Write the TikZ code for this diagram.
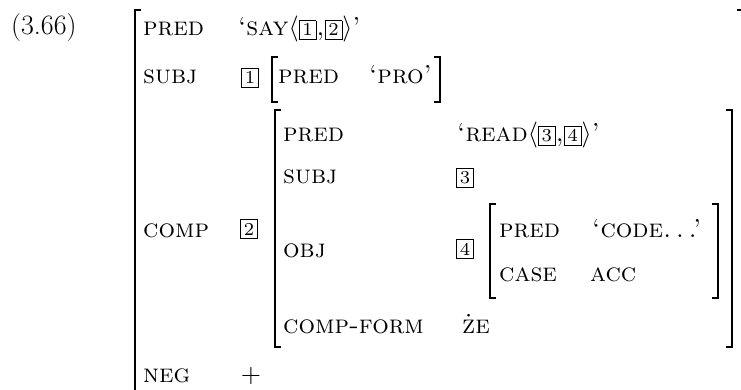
\documentclass[tikz,border=0pt]{standalone}
\usepackage{graphicx}
\newcommand\sct[1]{\scalebox{2.6}{\fontsize{10}{12}\selectfont\scshape #1}}
\newcommand\bx[1]{{\setlength\fboxsep{1.1pt}\setlength\fboxrule{0.3pt}\fbox{\fontsize{7}{7}\selectfont\upshape\makebox[4pt]{\vphantom{0}#1}}}}
\newcommand\ang[1]{$\langle$#1$\rangle$}
\newcommand\sdots{.\kern.17em.\kern.17em.}
\tikzset{
  txt/.style={anchor=base west, inner sep=0pt},
  boxn/.style={anchor=base, inner sep=0pt},
  brk/.style={line width=1.5pt},
}
\begin{document}
\begin{tikzpicture}[x=1pt,y=-1pt]
\useasboundingbox (0,0) rectangle (741,390);
\clip (0,0) rectangle (741,390);
% example number
\node[anchor=base west, inner sep=0pt, font=\fontsize{28}{30}\selectfont] (num) at (11,35) {(3.66)};
% outer brackets
\draw[brk] (141,10) -- (135,10) -- (135,400);
\draw[brk] (737,10) -- (745,10) -- (745,400);
% row 1
\node[txt] (p1) at (143,36) {\sct{pred}};
\node[txt] (v1) at (238,36) {\sct{\textquoteleft say\ang{\bx{1},\bx{2}}\textquoteright}};
% row 2
\node[txt] (s1) at (143,84) {\sct{subj}};
\node[boxn] (b1) at (250,84) {\sct{\bx{1}}};
\draw[brk] (278,57) -- (272,57) -- (272,102) -- (278,102);
\node[txt] (p2) at (278,84) {\sct{pred}};
\node[txt] (v2) at (369,84) {\sct{\textquoteleft pro\textquoteright}};
\draw[brk] (434,57) -- (440,57) -- (440,102) -- (434,102);
% COMP
\node[txt] (c1) at (143,237) {\sct{comp}};
\node[boxn] (b2) at (249,235) {\sct{\bx{2}}};
\draw[brk] (281,110) -- (275,110) -- (275,347) -- (281,347);
\draw[brk] (726,110) -- (732,110) -- (732,347) -- (726,347);
\node[txt] (p3) at (283,142) {\sct{pred}};
\node[txt] (v3) at (457,142) {\sct{\textquoteleft read\ang{\bx{3},\bx{4}}\textquoteright}};
\node[txt] (s3) at (283,184) {\sct{subj}};
\node[boxn] (b3) at (465,184) {\sct{\bx{3}}};
\node[txt] (o3) at (283,257) {\sct{obj}};
\node[boxn] (b4) at (465,255) {\sct{\bx{4}}};
% OBJ inner
\draw[brk] (496,204) -- (490,204) -- (490,298) -- (496,298);
\draw[brk] (712,204) -- (718,204) -- (718,298) -- (712,298);
\node[txt] (p4) at (499,237) {\sct{pred}};
\node[txt] (v4) at (592,237) {\sct{\textquoteleft code\sdots\textquoteright}};
\node[txt] (k4) at (499,281) {\sct{case}};
\node[txt] (a4) at (590,281) {\sct{acc}};
\node[txt] (cf) at (283,333) {\sct{comp-form}};
\node[txt] (ze) at (462,333) {\sct{\.ze}};
% NEG
\node[txt] (n1) at (143,382) {\sct{neg}};
\node[boxn] (pl) at (251,382) {\sct{$+$}};
\end{tikzpicture}
\end{document}
